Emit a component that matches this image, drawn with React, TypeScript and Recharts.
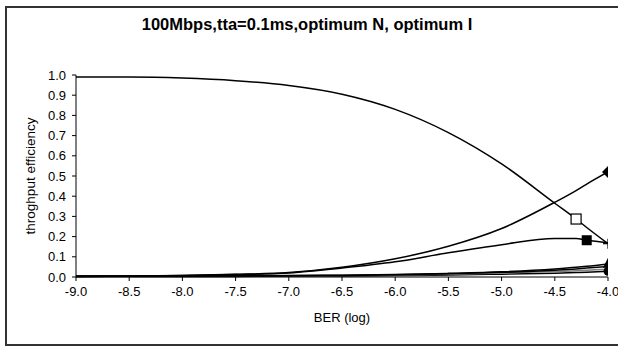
import React from "react";
import { LineChart, Line, XAxis, YAxis } from "recharts";

// BER exponents (log10) where the curves are sampled
const berLog = [-9.0, -8.5, -8.0, -7.5, -7.0, -6.5, -6.0, -5.5, -5.0, -4.5, -4.3, -4.2, -4.0];

// throughput efficiency per series
const seriesA = [0.99, 0.99, 0.985, 0.972, 0.948, 0.905, 0.83, 0.715, 0.56, 0.365, 0.287, 0.245, 0.165];
const seriesB = [0.003, 0.005, 0.008, 0.013, 0.022, 0.048, 0.09, 0.152, 0.24, 0.37, 0.428, 0.46, 0.52];
const seriesC = [0.002, 0.004, 0.007, 0.012, 0.02, 0.044, 0.075, 0.12, 0.16, 0.19, 0.19, 0.182, 0.17];
const seriesD = [0.005, 0.005, 0.005, 0.006, 0.007, 0.009, 0.012, 0.018, 0.026, 0.04, 0.048, 0.053, 0.065];
const seriesE = [0.004, 0.004, 0.004, 0.005, 0.006, 0.008, 0.011, 0.016, 0.023, 0.034, 0.04, 0.044, 0.052];
const seriesF = [0.003, 0.003, 0.003, 0.004, 0.005, 0.007, 0.01, 0.014, 0.02, 0.027, 0.031, 0.034, 0.038];
const seriesG = [0.002, 0.002, 0.002, 0.003, 0.004, 0.005, 0.007, 0.01, 0.014, 0.019, 0.022, 0.024, 0.028];

const xTicks = [-9.0, -8.5, -8.0, -7.5, -7.0, -6.5, -6.0, -5.5, -5.0, -4.5, -4.0];
const yTicks = [0, 0.1, 0.2, 0.3, 0.4, 0.5, 0.6, 0.7, 0.8, 0.9, 1.0];

const data = berLog.map((x, i) => ({
  x,
  a: seriesA[i],
  b: seriesB[i],
  c: seriesC[i],
  d: seriesD[i],
  e: seriesE[i],
  f: seriesF[i],
  g: seriesG[i],
}));

type Shape = "diamond" | "openSquare" | "square" | "plus" | "triangle" | "circle";

function marker(shape: Shape, at: number) {
  return (props: any) => {
    const { cx, cy, index } = props;
    if (index !== at) return <g key={`m-${index}`} />;
    const k = `m-${index}`;
    switch (shape) {
      case "diamond":
        return (
          <polygon key={k} points={`${cx},${cy - 6} ${cx + 6},${cy} ${cx},${cy + 6} ${cx - 6},${cy}`} fill="#000" />
        );
      case "openSquare":
        return <rect key={k} x={cx - 5} y={cy - 5} width={10} height={10} fill="#fff" stroke="#000" strokeWidth={1.2} />;
      case "square":
        return <rect key={k} x={cx - 5} y={cy - 5} width={10} height={10} fill="#000" />;
      case "plus":
        return (
          <g key={k} stroke="#000" strokeWidth={1.2}>
            <line x1={cx - 5} y1={cy} x2={cx + 5} y2={cy} />
            <line x1={cx} y1={cy - 5} x2={cx} y2={cy + 5} />
          </g>
        );
      case "triangle":
        return <polygon key={k} points={`${cx},${cy - 6} ${cx + 5},${cy + 4} ${cx - 5},${cy + 4}`} fill="#000" />;
      default:
        return <circle key={k} cx={cx} cy={cy} r={4.5} fill="#000" />;
    }
  };
}

const font = "Liberation Sans, Arial, sans-serif";
const tickStyle = { fontFamily: font, fontSize: 13, fill: "#000" };

export default function App() {
  return (
    <div style={{ position: "absolute", left: 0, top: 0, width: 618, height: 349, background: "#fff", overflow: "hidden" }}>
      <div
        style={{
          position: "absolute",
          left: 5,
          top: 6,
          width: 630,
          height: 336,
          border: "2px solid #333",
        }}
      />
      <div
        style={{
          position: "absolute",
          left: 0,
          top: 15,
          width: 614,
          textAlign: "center",
          fontFamily: font,
          fontWeight: "bold",
          fontSize: 16.5,
        }}
      >
        100Mbps,tta=0.1ms,optimum N, optimum I
      </div>
      <div style={{ position: "absolute", left: 0, top: 0 }}>
        <LineChart width={618} height={349} data={data} margin={{ top: 75, right: 10, bottom: 42, left: 36 }}>
          <XAxis
            dataKey="x"
            type="number"
            domain={[-9, -4]}
            ticks={xTicks}
            interval={0}
            tickFormatter={(v: number) => v.toFixed(1)}
            tick={tickStyle}
            tickSize={4}
            tickMargin={6}
            stroke="#000"
            height={30}
            allowDataOverflow
            label={{ value: "BER (log)", position: "bottom", offset: 6, style: tickStyle }}
          />
          <YAxis
            type="number"
            domain={[0, 1]}
            ticks={yTicks}
            interval={0}
            tickFormatter={(v: number) => v.toFixed(1)}
            tick={tickStyle}
            tickSize={4}
            tickMargin={6}
            stroke="#000"
            width={40}
            label={{
              value: "throghput efficiency",
              angle: -90,
              position: "left",
              offset: 6,
              style: { ...tickStyle, fontSize: 13.5, textAnchor: "middle" },
            }}
          />
          <Line type="monotone" dataKey="g" stroke="#000" strokeWidth={1.5} dot={marker("circle", 12)} isAnimationActive={false} />
          <Line type="monotone" dataKey="f" stroke="#808080" strokeWidth={1.5} dot={false} isAnimationActive={false} />
          <Line type="monotone" dataKey="e" stroke="#000" strokeWidth={1.5} dot={false} isAnimationActive={false} />
          <Line type="monotone" dataKey="d" stroke="#000" strokeWidth={1.5} dot={marker("triangle", 12)} isAnimationActive={false} />
          <Line type="monotone" dataKey="c" stroke="#000" strokeWidth={1.5} dot={marker("square", 11)} isAnimationActive={false} />
          <Line type="monotone" dataKey="b" stroke="#000" strokeWidth={1.5} dot={marker("diamond", 12)} isAnimationActive={false} />
          <Line
            type="monotone"
            dataKey="a"
            stroke="#000"
            strokeWidth={1.5}
            dot={(p: any) =>
              p.index === 10 ? marker("openSquare", 10)(p) : p.index === 12 ? marker("plus", 12)(p) : <g key={`m-${p.index}`} />
            }
            isAnimationActive={false}
          />
        </LineChart>
      </div>
    </div>
  );
}
